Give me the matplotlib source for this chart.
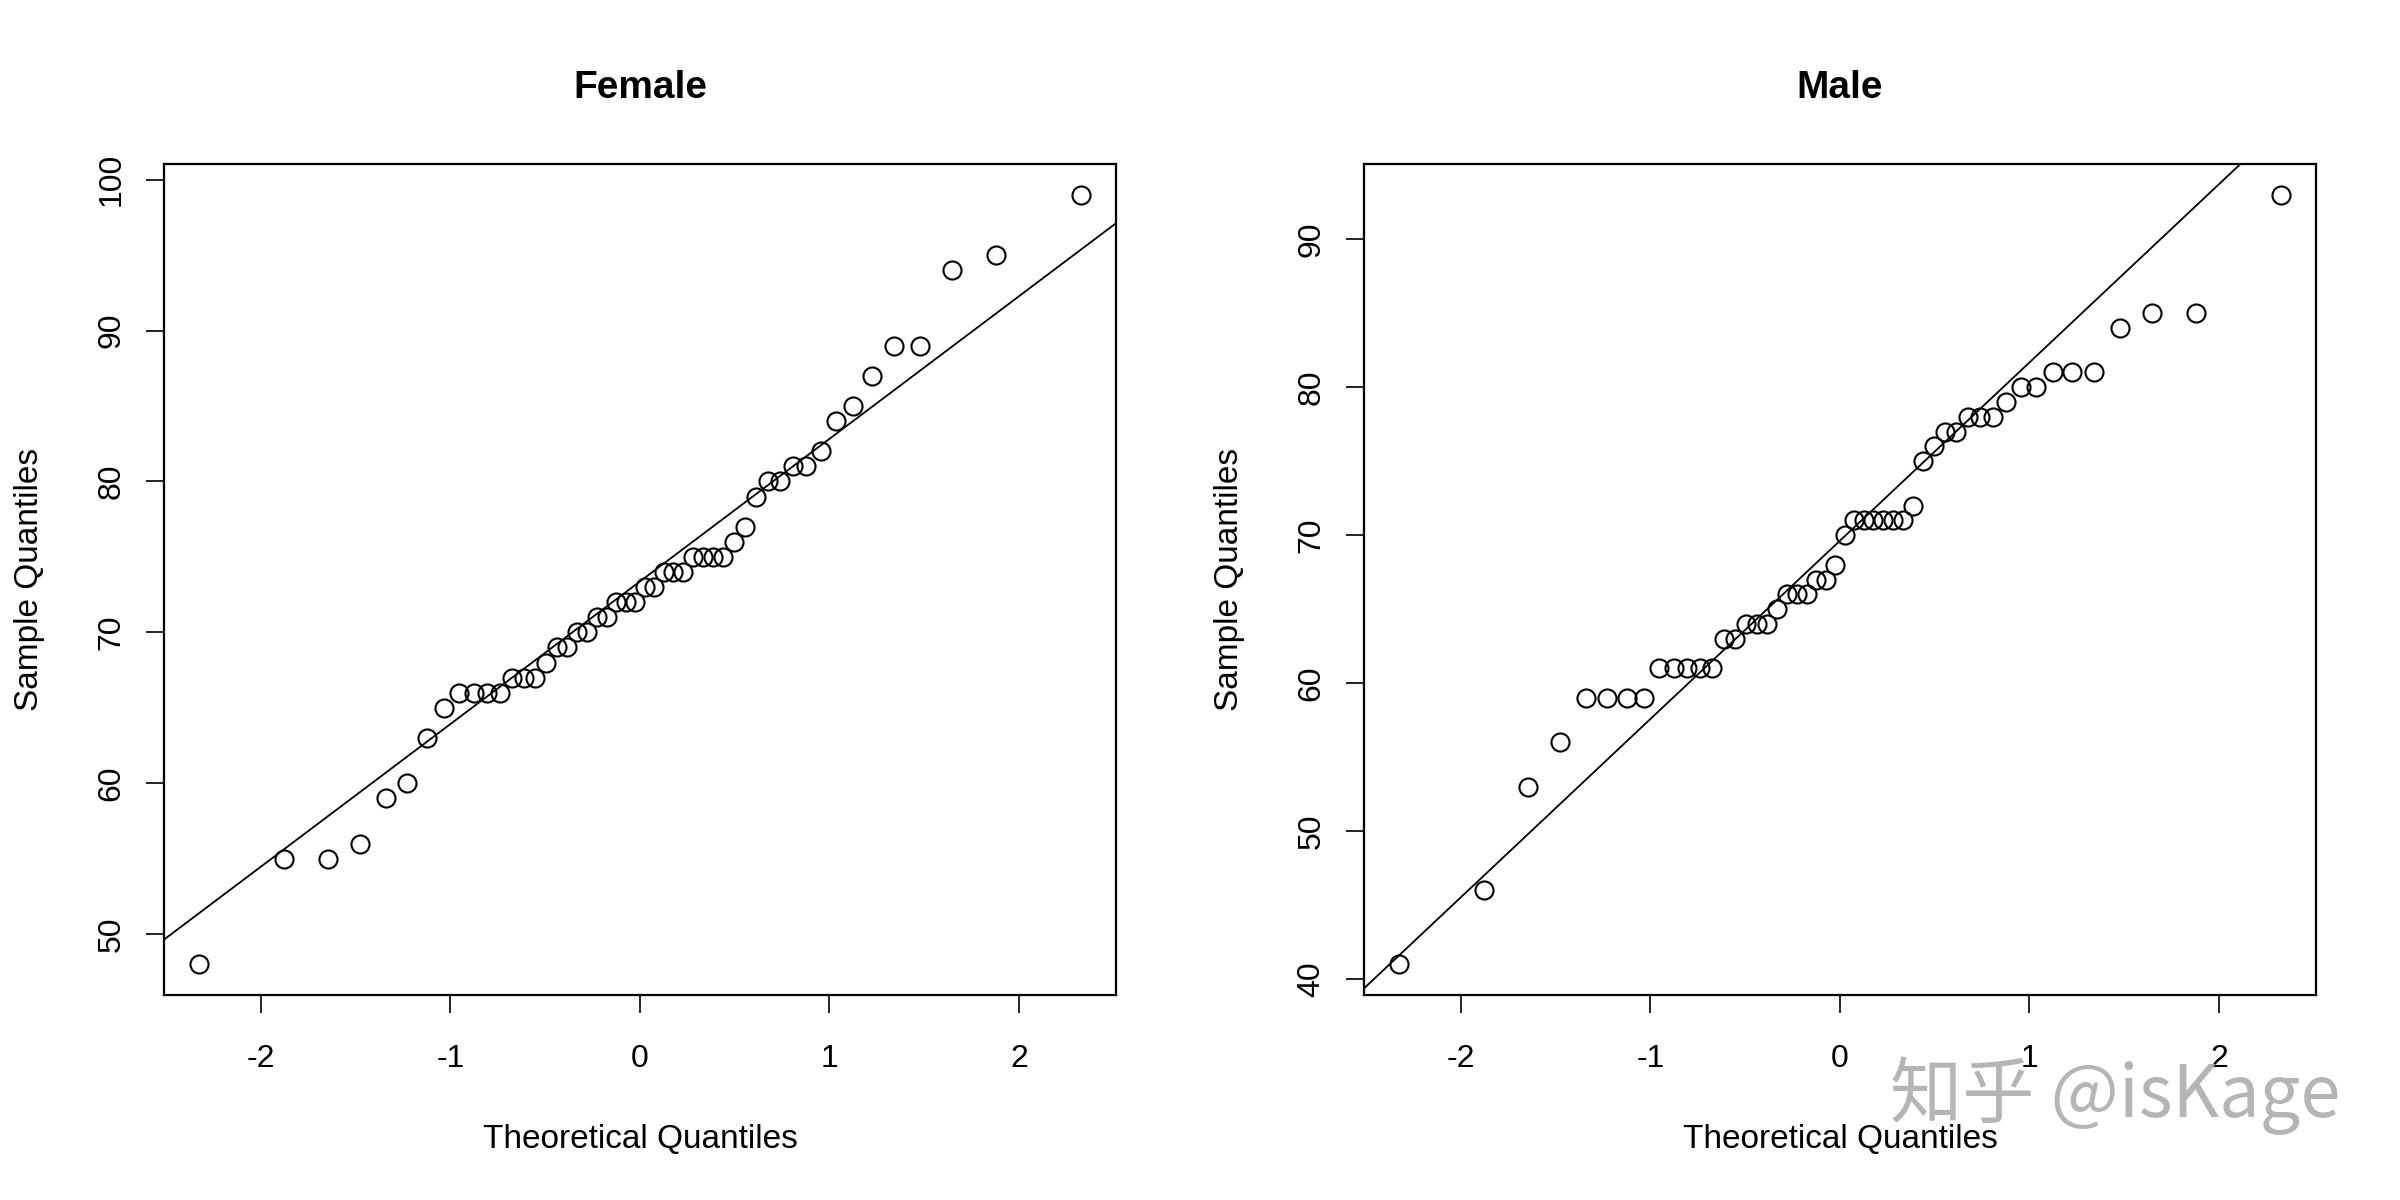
import matplotlib.pyplot as plt
import numpy as np

# ------------------------------------------------------------------
# Données (n = 50 par groupe)
# ------------------------------------------------------------------
# Quantiles théoriques (axe x, identiques pour les deux groupes)
quantiles_theoriques = [-2.326, -1.881, -1.645, -1.476, -1.341, -1.227, -1.126, -1.036,
                        -0.954, -0.878, -0.806, -0.739, -0.674, -0.613, -0.553, -0.496,
                        -0.440, -0.385, -0.332, -0.279, -0.228, -0.176, -0.126, -0.075,
                        -0.025, 0.025, 0.075, 0.126, 0.176, 0.228, 0.279, 0.332,
                        0.385, 0.440, 0.496, 0.553, 0.613, 0.674, 0.739, 0.806,
                        0.878, 0.954, 1.036, 1.126, 1.227, 1.341, 1.476, 1.645,
                        1.881, 2.326]

# Quantiles des échantillons (valeurs triées)
echantillon_femmes = [48, 55, 55, 56, 59, 60, 63, 65, 66, 66,
                      66, 66, 67, 67, 67, 68, 69, 69, 70, 70,
                      71, 71, 72, 72, 72, 73, 73, 74, 74, 74,
                      75, 75, 75, 75, 76, 77, 79, 80, 80, 81,
                      81, 82, 84, 85, 87, 89, 89, 94, 95, 99]
echantillon_hommes = [41, 46, 53, 56, 59, 59, 59, 59, 61, 61,
                      61, 61, 61, 63, 63, 64, 64, 64, 65, 66,
                      66, 66, 67, 67, 68, 70, 71, 71, 71, 71,
                      71, 71, 72, 75, 76, 77, 77, 78, 78, 78,
                      79, 80, 80, 81, 81, 81, 84, 85, 85, 93]

titres = ['Female', 'Male']
graduations_x = [-2, -1, 0, 1, 2]
graduations_y_femmes = [50, 60, 70, 80, 90, 100]
graduations_y_hommes = [40, 50, 60, 70, 80, 90]

plt.rcParams['font.family'] = ['Liberation Sans', 'DejaVu Sans']
plt.rcParams['font.size'] = 23


# ------------------------------------------------------------------
# Fonction de tracé d'un graphique quantile-quantile
# ------------------------------------------------------------------
def tracer_qq(ax, x, y, titre, graduations_y):
    x = np.array(x)
    y = np.array(y)
    ax.plot(x, y, linestyle='none', marker='o', markersize=13,
            markerfacecolor='none', markeredgecolor='black', markeredgewidth=1.5)

    # Droite passant par les quartiles (comme qqline de R)
    q1, q3 = np.quantile(y, [0.25, 0.75])
    z = 0.6745
    pente = (q3 - q1) / (2 * z)
    ordonnee = q1 + pente * z
    ax.axline((0, ordonnee), slope=pente, color='black', linewidth=1.3)

    # Marges de 4 % comme R
    dx = (x.max() - x.min()) * 0.04
    dy = (y.max() - y.min()) * 0.04
    ax.set_xlim(x.min() - dx, x.max() + dx)
    ax.set_ylim(y.min() - dy, y.max() + dy)

    ax.set_xticks(graduations_x)
    ax.set_xticklabels([str(v) for v in graduations_x])
    ax.set_yticks(graduations_y)
    ax.tick_params(axis='both', direction='out', length=13, width=1.2, labelsize=23)
    ax.tick_params(axis='x', pad=22)
    ax.tick_params(axis='y', pad=14, labelrotation=90)
    plt.setp(ax.get_yticklabels(), va='center', ha='right')
    for spine in ax.spines.values():
        spine.set_linewidth(1.6)

    ax.set_title(titre, fontsize=28, fontweight='bold', y=1.0816, va='center')
    ax.set_xlabel('Theoretical Quantiles', fontsize=24, va='center')
    ax.xaxis.set_label_coords(0.5, -0.1733)
    ax.set_ylabel('Sample Quantiles', fontsize=24, va='center')
    ax.yaxis.set_label_coords(-0.141, 0.5)


fig = plt.figure(figsize=(24, 12), dpi=100)
ax1 = fig.add_axes([0.0683, 0.1708, 0.3967, 0.6925])
ax2 = fig.add_axes([0.5683, 0.1708, 0.3967, 0.6925])

tracer_qq(ax1, quantiles_theoriques, echantillon_femmes, titres[0], graduations_y_femmes)
tracer_qq(ax2, quantiles_theoriques, echantillon_hommes, titres[1], graduations_y_hommes)

# Filigrane
fig.text(0.8812, 0.0867, '知乎 @isKage', fontsize=52, color='#a8a8a8', alpha=0.85,
         ha='center', va='center', family=['Noto Sans CJK SC', 'DejaVu Sans'])

fig.savefig('out.png', dpi=100)
